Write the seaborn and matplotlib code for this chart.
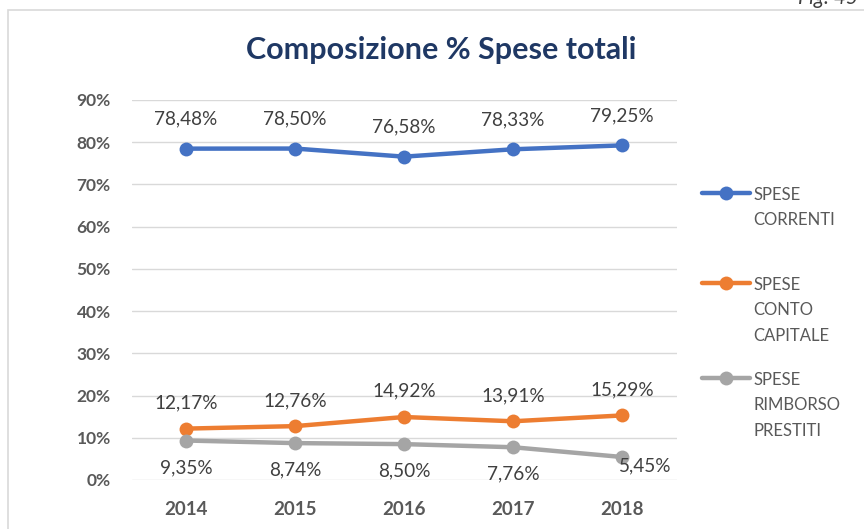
import matplotlib
matplotlib.use("Agg")
import matplotlib.pyplot as plt
import seaborn as sns
import pandas as pd
from matplotlib.patches import Rectangle
from matplotlib.ticker import FuncFormatter

years = ["2014", "2015", "2016", "2017", "2018"]
correnti = [78.48, 78.50, 76.58, 78.33, 79.25]
capitale = [12.17, 12.76, 14.92, 13.91, 15.29]
rimborso = [9.35, 8.74, 8.50, 7.76, 5.45]
series_names = ["SPESE\nCORRENTI", "SPESE\nCONTO\nCAPITALE", "SPESE\nRIMBORSO\nPRESTITI"]
colors = ["#4472C4", "#ED7D31", "#A5A5A5"]

df = pd.DataFrame({
    "anno": years * 3,
    "valore": correnti + capitale + rimborso,
    "serie": [series_names[0]] * 5 + [series_names[1]] * 5 + [series_names[2]] * 5,
})

sns.set_theme(style="white")
plt.rcParams["font.family"] = ["Lato", "DejaVu Sans"]

fig = plt.figure(figsize=(8.64, 5.29), dpi=100)
W, H = 864, 529
ax = fig.add_axes([131.5 / W, (H - 480) / H, 545 / W, 380 / H])

sns.lineplot(data=df, x="anno", y="valore", hue="serie", palette=colors,
             marker="o", markersize=10, markeredgewidth=0, linewidth=3.2,
             sort=False, ax=ax, legend=False)

ax.set_ylim(0, 90)
ax.set_xlim(-0.5, 4.5)
ax.set_yticks(range(0, 91, 10))
ax.yaxis.set_major_formatter(FuncFormatter(lambda v, p: f"{int(v)}%"))
ax.grid(axis="y", color="#D9D9D9", linewidth=1)
ax.grid(axis="x", visible=False)
for s in ["top", "right", "left", "bottom"]:
    ax.spines[s].set_visible(False)
ax.set_xlabel("")
ax.set_ylabel("")
ax.tick_params(axis="both", length=0, labelcolor="#595959")
ax.tick_params(axis="y", pad=15, labelsize=12.5)
ax.tick_params(axis="x", pad=15, labelsize=13.5)
for lbl in ax.get_xticklabels() + ax.get_yticklabels():
    lbl.set_fontweight("bold")


def fmt(v):
    return f"{v:.2f}%".replace(".", ",")


lab_kw = dict(ha="center", va="center", fontsize=13.7, color="#404040",
              textcoords="offset points")
for i, v in enumerate(correnti):
    ax.annotate(fmt(v), (i, v), xytext=(0, 21.5), **lab_kw)
for i, v in enumerate(capitale):
    ax.annotate(fmt(v), (i, v), xytext=(0, 18.5), **lab_kw)
for i, v in enumerate(rimborso):
    off = (0, -19.5) if i < 4 else (17, -6.5)
    ax.annotate(fmt(v), (i, v), xytext=off, **lab_kw)

fig.text(441 / W, 1 - 50 / H, "Composizione % Spese totali", ha="center",
         va="center", fontsize=22, fontweight="bold", color="#1F3864")

# chart frame and figure reference
fig.patches.append(Rectangle((8 / W, -0.2), 2, (H - 10) / H + 0.2,
                             transform=fig.transFigure, fill=False,
                             edgecolor="#D9D9D9", linewidth=1.2))
fig.text(798 / W, 1 - 4 / H, "Fig. 45", ha="left", va="baseline",
         fontsize=15, style="italic", color="#404040")

# legend: one block per series, marker aligned with the first text line
legend_tops = [187, 277, 372]
for line, name, top in zip(ax.get_lines(), series_names, legend_tops):
    leg = fig.legend([line], [name], loc="upper left",
                     bbox_to_anchor=(702 / W, 1 - top / H),
                     frameon=False, fontsize=12, handlelength=2.9,
                     handletextpad=0.2, borderpad=0, borderaxespad=0)
    for col in leg._legend_handle_box.get_children():
        for item in col.get_children():
            item.align = "top"
    for t in leg.get_texts():
        t.set_color("#595959")
        t.set_linespacing(1.72)

fig.savefig("out.png", dpi=100)
